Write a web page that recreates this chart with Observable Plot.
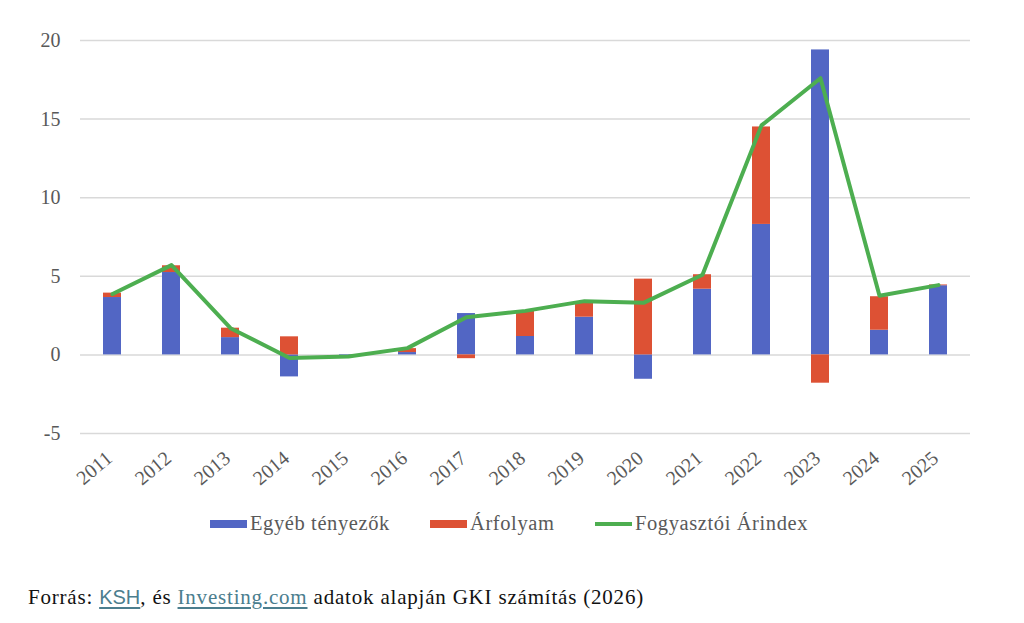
<!DOCTYPE html>
<html>
<head>
<meta charset="utf-8">
<script src="https://cdn.jsdelivr.net/npm/d3@7"></script>
<script src="https://cdn.jsdelivr.net/npm/@observablehq/plot@0.6"></script>
<style>
  body { margin: 0; background: #fff; width: 1024px; height: 623px; overflow: hidden; font-family: "Liberation Serif", "Times New Roman", Tinos, "DejaVu Serif", serif; }
  #chart { position: absolute; left: 0; top: 0; }
  #legend { position: absolute; left: 0; width: 1024px; top: 512px; height: 28px; font-size: 20.5px; color: #595959; letter-spacing: 0.6px; }
  .item { position: absolute; top: 0; display: flex; align-items: center; white-space: nowrap; }
  .sw { display: inline-block; width: 37px; height: 8px; margin-right: 3px; }
  .ln { display: inline-block; width: 37px; height: 4px; margin-right: 3px; }
  #caption { position: absolute; left: 28px; top: 585px; font-size: 21px; color: #111; letter-spacing: 0.8px; white-space: nowrap; }
  #caption a { color: #4b7e8e; text-decoration: underline; text-underline-offset: 3px; }
  .sans { font-family: "Liberation Sans", Arial, sans-serif; font-size: 20px; letter-spacing: 0; }
</style>
</head>
<body>
<div id="chart"></div>
<div id="legend"></div>
<div id="caption">Forrás: <a class="sans">KSH</a>, és <a>Investing.com</a> adatok alapján GKI számítás (2026)</div>
<script>
const years = ["2011","2012","2013","2014","2015","2016","2017","2018","2019","2020","2021","2022","2023","2024","2025"];
const egyeb = [3.65, 5.24, 1.1, -1.4, -0.05, 0.15, 2.63, 1.17, 2.4, -1.55, 4.18, 8.3, 19.4, 1.57, 4.4];
const arfolyam = [0.28, 0.43, 0.6, 1.15, 0, 0.25, -0.24, 1.63, 0.98, 4.82, 0.92, 6.2, -1.8, 2.13, 0.05];
const cpi = [3.87, 5.71, 1.7, -0.2, -0.1, 0.43, 2.4, 2.8, 3.42, 3.31, 5.1, 14.6, 17.6, 3.76, 4.44];
const yTicks = [-5, 0, 5, 10, 15, 20];
const seriesNames = ["Egyéb tényezők", "Árfolyam", "Fogyasztói Árindex"];
const colors = ["#5266c4", "#dd5134", "#4dae50"];

const bars = [];
years.forEach((y, i) => {
  bars.push({year: y, series: seriesNames[0], value: egyeb[i]});
  bars.push({year: y, series: seriesNames[1], value: arfolyam[i]});
});
const line = years.map((y, i) => ({year: y, value: cpi[i]}));

const serif = "'Liberation Serif', 'Times New Roman', Tinos, 'DejaVu Serif', serif";
const plot = Plot.plot({
  width: 1024,
  height: 500,
  marginLeft: 80,
  marginRight: 54,
  marginTop: 40,
  marginBottom: 67,
  style: {fontFamily: serif, fontSize: "19px", color: "#595959", background: "#fff"},
  x: {domain: years, paddingInner: 0.69, paddingOuter: 0.345, label: null},
  y: {domain: [-5, 20], label: null},
  color: {domain: seriesNames.slice(0, 2), range: colors.slice(0, 2)},
  marks: [
    Plot.gridY(yTicks, {stroke: "#d9d9d9", strokeOpacity: 1, strokeWidth: 1.5}),
    Plot.axisY(yTicks, {tickSize: 0, tickPadding: 20, tickFormat: d => String(d), fill: "#595959", fontSize: 20, fontFamily: serif, label: null}),
    Plot.axisX({tickSize: 0, tickRotate: -40, tickPadding: 22, fill: "#595959", fontSize: 20, fontFamily: serif, label: null, dx: -3}),
    Plot.barY(bars, {x: "year", y: "value", fill: "series", order: seriesNames.slice(0, 2)}),
    Plot.line(line, {x: "year", y: "value", stroke: colors[2], strokeWidth: 4, strokeLinejoin: "round"})
  ]
});
document.getElementById("chart").appendChild(plot);

const legend = document.getElementById("legend");
const legendLeft = [210, 430, 595];
seriesNames.forEach((name, i) => {
  const item = document.createElement("div");
  item.className = "item";
  item.style.left = legendLeft[i] + "px";
  const sw = document.createElement("span");
  sw.className = i < 2 ? "sw" : "ln";
  sw.style.background = colors[i];
  item.appendChild(sw);
  const t = document.createElement("span");
  t.textContent = name;
  item.appendChild(t);
  legend.appendChild(item);
});
</script>
</body>
</html>
